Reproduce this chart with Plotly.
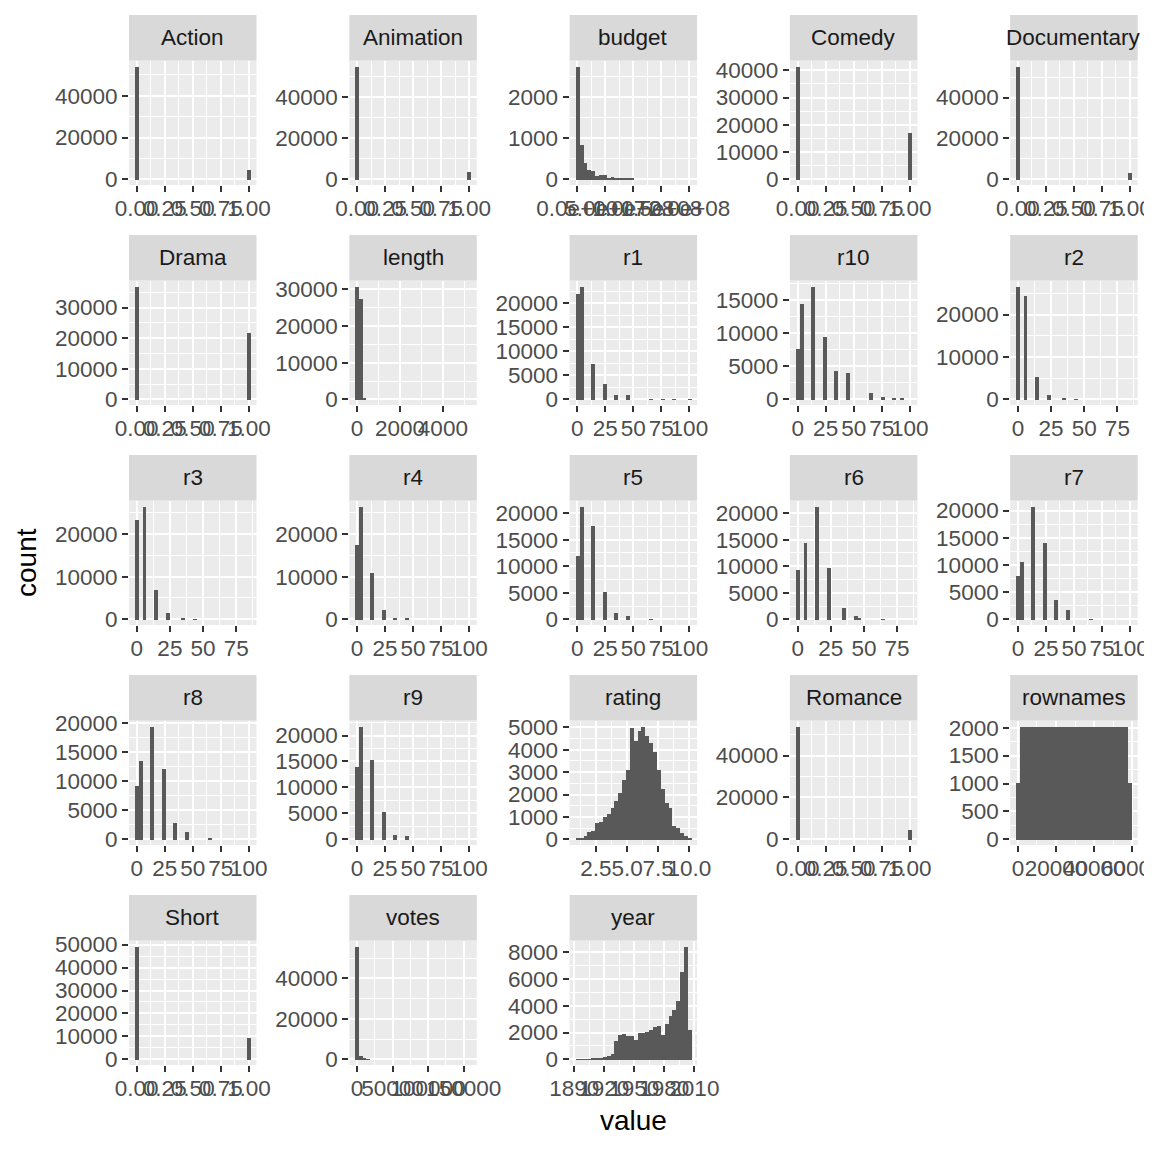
"""movies 資料 — 每個欄位的直方圖 (facet_wrap 風格, 30 bins)"""
import numpy as np
import plotly.graph_objects as go

# ---- facet 名稱 (依字母排序) ----
FACETS = [
    "Action", "Animation", "budget", "Comedy", "Documentary",
    "Drama", "length", "r1", "r10", "r2",
    "r3", "r4", "r5", "r6", "r7",
    "r8", "r9", "rating", "Romance", "rownames",
    "Short", "votes", "year",
]

# ---- 每個欄位的最小 / 最大值 (30 個 bin 的第一個與最後一個中心) ----
BIN_LO = [0, 0, 0, 0, 0,
          0, 1, 0, 0, 0,
          0, 0, 0, 0, 0,
          0, 0, 1, 0, 1,
          0, 5, 1893]
BIN_HI = [1, 1, 2e8, 1, 1,
          1, 5220, 100, 100, 84.5,
          84.5, 100, 100, 84.5, 100,
          100, 100, 10, 1, 58788,
          1, 157608, 2005]

# ---- 每個 bin 的計數 ----
ACTION = [54100, 0, 0, 0, 0, 0, 0, 0, 0, 0, 0, 0, 0, 0, 0,
          0, 0, 0, 0, 0, 0, 0, 0, 0, 0, 0, 0, 0, 0, 4688]
ANIMATION = [55098, 0, 0, 0, 0, 0, 0, 0, 0, 0, 0, 0, 0, 0, 0,
             0, 0, 0, 0, 0, 0, 0, 0, 0, 0, 0, 0, 0, 0, 3690]
BUDGET = [2745, 850, 413, 243, 219, 97, 121, 121, 49, 73, 49, 24, 49, 24, 24,
          0, 0, 0, 0, 0, 0, 0, 0, 0, 0, 0, 0, 0, 0, 0]
COMEDY = [41517, 0, 0, 0, 0, 0, 0, 0, 0, 0, 0, 0, 0, 0, 0,
          0, 0, 0, 0, 0, 0, 0, 0, 0, 0, 0, 0, 0, 0, 17271]
DOCUMENTARY = [55316, 0, 0, 0, 0, 0, 0, 0, 0, 0, 0, 0, 0, 0, 0,
               0, 0, 0, 0, 0, 0, 0, 0, 0, 0, 0, 0, 0, 0, 3472]
DRAMA = [36977, 0, 0, 0, 0, 0, 0, 0, 0, 0, 0, 0, 0, 0, 0,
         0, 0, 0, 0, 0, 0, 0, 0, 0, 0, 0, 0, 0, 0, 21811]
LENGTH = [30900, 27600, 250, 0, 0, 0, 0, 0, 0, 0, 0, 0, 0, 0, 0,
          0, 0, 0, 0, 0, 0, 0, 0, 0, 0, 0, 0, 0, 0, 0]
R1 = [22000, 23600, 0, 0, 7400, 0, 0, 3200, 0, 0, 1100, 0, 0, 1100, 0,
      0, 0, 0, 0, 60, 0, 0, 60, 0, 0, 60, 0, 0, 0, 40]
R10 = [7750, 14500, 0, 0, 17100, 0, 0, 9500, 0, 0, 4400, 0, 0, 4000, 0,
       0, 0, 0, 0, 1000, 0, 0, 400, 0, 0, 250, 0, 150, 0, 0]
R2 = [26700, 0, 24500, 0, 0, 5300, 0, 0, 1250, 0, 0, 0, 250, 0, 0,
      150, 0, 0, 0, 0, 0, 0, 0, 0, 0, 0, 0, 0, 0, 0]
R3 = [23300, 0, 26500, 0, 0, 6900, 0, 0, 1550, 0, 0, 0, 200, 0, 0,
      150, 0, 0, 0, 0, 0, 0, 0, 0, 0, 0, 0, 0, 0, 0]
R4 = [17600, 26500, 0, 0, 11000, 0, 0, 2350, 0, 0, 300, 0, 0, 250, 0,
      0, 0, 0, 0, 0, 0, 0, 0, 0, 0, 0, 0, 0, 0, 0]
R5 = [12000, 21300, 0, 0, 17700, 0, 0, 5300, 0, 0, 1250, 0, 0, 650, 0,
      0, 0, 0, 0, 100, 0, 0, 0, 0, 0, 0, 0, 0, 0, 0]
R6 = [9300, 0, 14400, 0, 0, 21300, 0, 0, 9700, 0, 0, 0, 2200, 0, 0,
      800, 200, 0, 0, 0, 0, 0, 60, 0, 0, 0, 0, 0, 0, 0]
R7 = [8000, 10600, 0, 0, 20800, 0, 0, 14100, 0, 0, 3600, 0, 0, 1750, 0,
      0, 0, 0, 0, 100, 0, 0, 0, 0, 0, 0, 0, 0, 0, 0]
R8 = [9200, 13500, 0, 0, 19400, 0, 0, 12100, 0, 0, 2900, 0, 0, 1350, 0,
      0, 0, 0, 0, 170, 0, 0, 0, 0, 0, 0, 0, 0, 0, 0]
R9 = [14000, 21800, 0, 0, 15400, 0, 0, 5400, 0, 0, 950, 0, 0, 650, 0,
      0, 0, 0, 0, 0, 0, 0, 0, 0, 0, 0, 0, 0, 0, 0]
RATING = [75, 100, 180, 330, 390, 730, 800, 1040, 1175, 1440, 1750, 2100, 2660, 3100, 5000,
          4400, 4850, 5050, 4650, 4330, 3900, 3100, 2280, 1640, 1410, 640, 540, 310, 165, 100]
ROMANCE = [54044, 0, 0, 0, 0, 0, 0, 0, 0, 0, 0, 0, 0, 0, 0,
           0, 0, 0, 0, 0, 0, 0, 0, 0, 0, 0, 0, 0, 0, 4744]
ROWNAMES = [1014, 2027, 2027, 2027, 2027, 2027, 2027, 2027, 2027, 2027,
            2027, 2027, 2027, 2027, 2027, 2027, 2027, 2027, 2027, 2027,
            2027, 2027, 2027, 2027, 2027, 2027, 2027, 2027, 2027, 1014]
SHORT = [49330, 0, 0, 0, 0, 0, 0, 0, 0, 0, 0, 0, 0, 0, 0,
         0, 0, 0, 0, 0, 0, 0, 0, 0, 0, 0, 0, 0, 0, 9458]
VOTES = [55900, 1700, 550, 250, 0, 0, 0, 0, 0, 0, 0, 0, 0, 0, 0,
         0, 0, 0, 0, 0, 0, 0, 0, 0, 0, 0, 0, 0, 0, 0]
YEAR = [3, 10, 40, 60, 80, 120, 150, 200, 250, 450, 1400, 1850, 1900, 1750, 1800,
        1500, 2000, 2000, 2050, 2250, 2450, 2550, 1850, 2700, 3300, 3700, 4400, 6550, 8450, 2250]

COUNTS = [ACTION, ANIMATION, BUDGET, COMEDY, DOCUMENTARY,
          DRAMA, LENGTH, R1, R10, R2,
          R3, R4, R5, R6, R7,
          R8, R9, RATING, ROMANCE, ROWNAMES,
          SHORT, VOTES, YEAR]

# ---- x 軸刻度 ----
X_BIN = ([0, 0.25, 0.5, 0.75, 1], ["0.00", "0.25", "0.50", "0.75", "1.00"])
X_BUDGET = ([0, 5e7, 1e8, 1.5e8, 2e8], ["0.0e+00", "5.0e+07", "1.0e+08", "1.5e+08", "2.0e+08"])
X_LENGTH = ([0, 2000, 4000], ["0", "2000", "4000"])
X_PCT100 = ([0, 25, 50, 75, 100], ["0", "25", "50", "75", "100"])
X_PCT75 = ([0, 25, 50, 75], ["0", "25", "50", "75"])
X_RATING = ([2.5, 5, 7.5, 10], ["2.5", "5.0", "7.5", "10.0"])
X_ROWNAMES = ([0, 20000, 40000, 60000], ["0", "20000", "40000", "60000"])
X_VOTES = ([0, 50000, 100000, 150000], ["0", "50000", "100000", "150000"])
X_YEAR = ([1890, 1920, 1950, 1980, 2010], ["1890", "1920", "1950", "1980", "2010"])

X_TICKS = [X_BIN, X_BIN, X_BUDGET, X_BIN, X_BIN,
           X_BIN, X_LENGTH, X_PCT100, X_PCT100, X_PCT75,
           X_PCT75, X_PCT100, X_PCT100, X_PCT75, X_PCT100,
           X_PCT100, X_PCT100, X_RATING, X_BIN, X_ROWNAMES,
           X_BIN, X_VOTES, X_YEAR]

# ---- y 軸刻度 ----
Y_TICKS = [
    [0, 20000, 40000], [0, 20000, 40000], [0, 1000, 2000],
    [0, 10000, 20000, 30000, 40000], [0, 20000, 40000],
    [0, 10000, 20000, 30000], [0, 10000, 20000, 30000],
    [0, 5000, 10000, 15000, 20000], [0, 5000, 10000, 15000], [0, 10000, 20000],
    [0, 10000, 20000], [0, 10000, 20000], [0, 5000, 10000, 15000, 20000],
    [0, 5000, 10000, 15000, 20000], [0, 5000, 10000, 15000, 20000],
    [0, 5000, 10000, 15000, 20000], [0, 5000, 10000, 15000, 20000],
    [0, 1000, 2000, 3000, 4000, 5000], [0, 20000, 40000], [0, 500, 1000, 1500, 2000],
    [0, 10000, 20000, 30000, 40000, 50000], [0, 20000, 40000], [0, 2000, 4000, 6000, 8000],
]

# ---- 版面 (px, 已扣掉頁面 body 的 8px 邊距) ----
W = H = 1152
COL_LEFT = 121
COL_PITCH = 220.3
PANEL_W = 127.5
ROW_TOP = 7
ROW_PITCH = 220
STRIP_H = 45.5
PANEL_H = 124.5

BAR_COLOR = "#595959"
PANEL_BG = "#EBEBEB"
STRIP_BG = "#D9D9D9"
FONT = "Liberation Sans"
TEXT_SIZE = 22.5
TITLE_SIZE = 28


def minor_ticks(majors, lo, hi):
    step = majors[1] - majors[0]
    cand = [majors[0] - step / 2] + [m + step / 2 for m in majors]
    return [c for c in cand if lo < c < hi]


fig = go.Figure()
shapes, annotations = [], []

for i, name in enumerate(FACETS):
    r, c = divmod(i, 5)
    ax = "" if i == 0 else str(i + 1)
    counts = np.array(COUNTS[i], dtype=float)
    lo, hi = BIN_LO[i], BIN_HI[i]
    centers = np.linspace(lo, hi, len(counts))
    w = (hi - lo) / (len(counts) - 1)

    fig.add_trace(go.Bar(
        x=centers, y=counts, width=w,
        marker=dict(color=BAR_COLOR, line=dict(width=0)),
        xaxis="x" + ax, yaxis="y" + ax, showlegend=False,
    ))

    # ggplot 的 5% 擴展
    span = (hi - lo) + w
    xr = [lo - w / 2 - 0.05 * span, hi + w / 2 + 0.05 * span]
    ymax = counts.max()
    yr = [-0.05 * ymax, 1.05 * ymax]

    left = COL_LEFT + c * COL_PITCH
    strip_top = ROW_TOP + r * ROW_PITCH
    p_top = strip_top + STRIP_H
    p_bot = p_top + PANEL_H

    xt, xl = X_TICKS[i]
    yt = Y_TICKS[i]
    common = dict(
        showline=False, zeroline=False, showgrid=True,
        gridcolor="white", gridwidth=2,
        ticks="outside", ticklen=6, tickwidth=1.5, tickcolor="#333333",
        tickfont=dict(family=FONT, size=TEXT_SIZE, color="#4D4D4D"),
        tickangle=0, fixedrange=True, ticklabeloverflow="allow",
    )
    fig.layout["xaxis" + ax] = dict(
        common, domain=[left / W, (left + PANEL_W) / W], anchor="y" + ax,
        range=xr, tickmode="array", tickvals=xt, ticktext=xl,
        ticklabelstandoff=-3,
        minor=dict(tickvals=minor_ticks(xt, *xr), showgrid=True,
                   gridcolor="white", gridwidth=1, ticks=""),
    )
    fig.layout["yaxis" + ax] = dict(
        common, domain=[1 - p_bot / H, 1 - p_top / H], anchor="x" + ax,
        range=yr, tickmode="array", tickvals=yt, ticktext=[str(v) for v in yt],
        minor=dict(tickvals=minor_ticks(yt, *yr), showgrid=True,
                   gridcolor="white", gridwidth=1, ticks=""),
    )

    shapes.append(dict(
        type="rect", xref="paper", yref="paper", layer="below",
        x0=left / W, x1=(left + PANEL_W) / W,
        y0=1 - p_top / H, y1=1 - strip_top / H,
        fillcolor=STRIP_BG, line=dict(width=0),
    ))
    annotations.append(dict(
        text=name, xref="paper", yref="paper", showarrow=False,
        x=(left + PANEL_W / 2) / W, y=1 - (strip_top + STRIP_H / 2) / H,
        xanchor="center", yanchor="middle",
        font=dict(family=FONT, size=TEXT_SIZE, color="#1A1A1A"),
    ))

annotations.append(dict(
    text="count", xref="paper", yref="paper", showarrow=False,
    x=19 / W, y=1 - 555 / H, textangle=-90,
    xanchor="center", yanchor="middle",
    font=dict(family=FONT, size=TITLE_SIZE, color="black"),
))
annotations.append(dict(
    text="value", xref="paper", yref="paper", showarrow=False,
    x=625 / W, y=1 - 1112 / H,
    xanchor="center", yanchor="middle",
    font=dict(family=FONT, size=TITLE_SIZE, color="black"),
))

fig.update_layout(
    template="none",
    width=W, height=H,
    margin=dict(l=0, r=0, t=0, b=0),
    paper_bgcolor="white", plot_bgcolor=PANEL_BG,
    font=dict(family=FONT, size=TEXT_SIZE, color="#4D4D4D"),
    shapes=shapes, annotations=annotations,
    showlegend=False, bargap=0,
)

fig.write_html("out.html")
